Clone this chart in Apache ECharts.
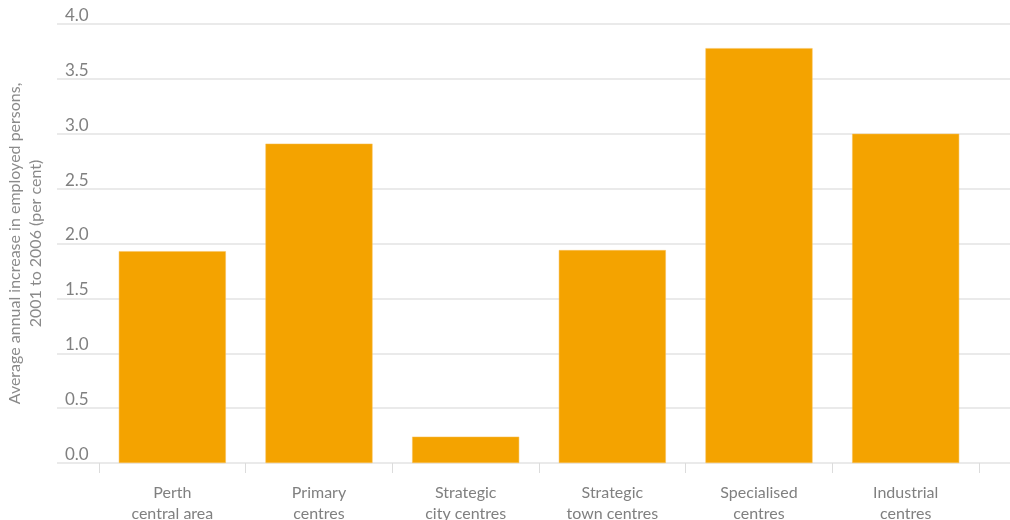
<!DOCTYPE html>
<html>
<head>
<meta charset="utf-8">
<script src="https://cdn.jsdelivr.net/npm/echarts@6/dist/echarts.min.js"></script>
<style>
html,body{margin:0;padding:0;background:#fff;}
#chart{width:1010px;height:520px;}
</style>
</head>
<body>
<div id="chart"></div>
<script>
const categories = ['Perth\ncentral area', 'Primary\ncentres', 'Strategic\ncity centres', 'Strategic\ntown centres', 'Specialised\ncentres', 'Industrial\ncentres'];
const values = [1.93, 2.91, 0.24, 1.94, 3.78, 3.00];
const yTicks = { min: 0, max: 4, interval: 0.5 };
const yTitle = 'Average annual increase in employed persons,\n2001 to 2006 (per cent)';

const font = 'Lato, "Open Sans", sans-serif';
const chart = echarts.init(document.getElementById('chart'), null, { renderer: 'canvas' });
chart.setOption({
  animation: false,
  grid: [
    { left: 57, right: 0, top: 24, bottom: 57, outerBoundsMode: 'none', containLabel: false },
    { left: 99, right: 31, top: 24, bottom: 57, outerBoundsMode: 'none', containLabel: false }
  ],
  xAxis: [
    { gridIndex: 0, type: 'value', show: false, min: 0, max: 1 },
    {
      gridIndex: 1, type: 'category', data: categories,
      axisLine: { show: false },
      axisTick: { show: true, length: 10, lineStyle: { color: '#dcdcdc', width: 1 } },
      axisLabel: { color: '#808080', fontFamily: font, fontSize: 16, lineHeight: 21, margin: 19 }
    }
  ],
  yAxis: [
    {
      gridIndex: 0, type: 'value', min: yTicks.min, max: yTicks.max, interval: yTicks.interval,
      axisLine: { show: false }, axisTick: { show: false },
      splitLine: { show: true, lineStyle: { color: '#e3e3e3', width: 1.5 } },
      axisLabel: {
        inside: true, margin: 8, verticalAlign: 'bottom', align: 'left',
        color: '#808080', fontFamily: font, fontSize: 17,
        formatter: v => v.toFixed(1)
      },
      name: yTitle, nameLocation: 'middle', nameRotate: 90, nameGap: 11,
      nameTextStyle: { color: '#8a8a8a', fontFamily: font, fontSize: 16, lineHeight: 21 }
    },
    { gridIndex: 1, type: 'value', show: false, min: yTicks.min, max: yTicks.max, interval: yTicks.interval }
  ],
  series: [{
    type: 'bar', xAxisIndex: 1, yAxisIndex: 1, data: values,
    barWidth: '73%',
    itemStyle: { color: '#F4A300', borderColor: '#F8C15A', borderWidth: 0.5 }
  }]
});
</script>
</body>
</html>
